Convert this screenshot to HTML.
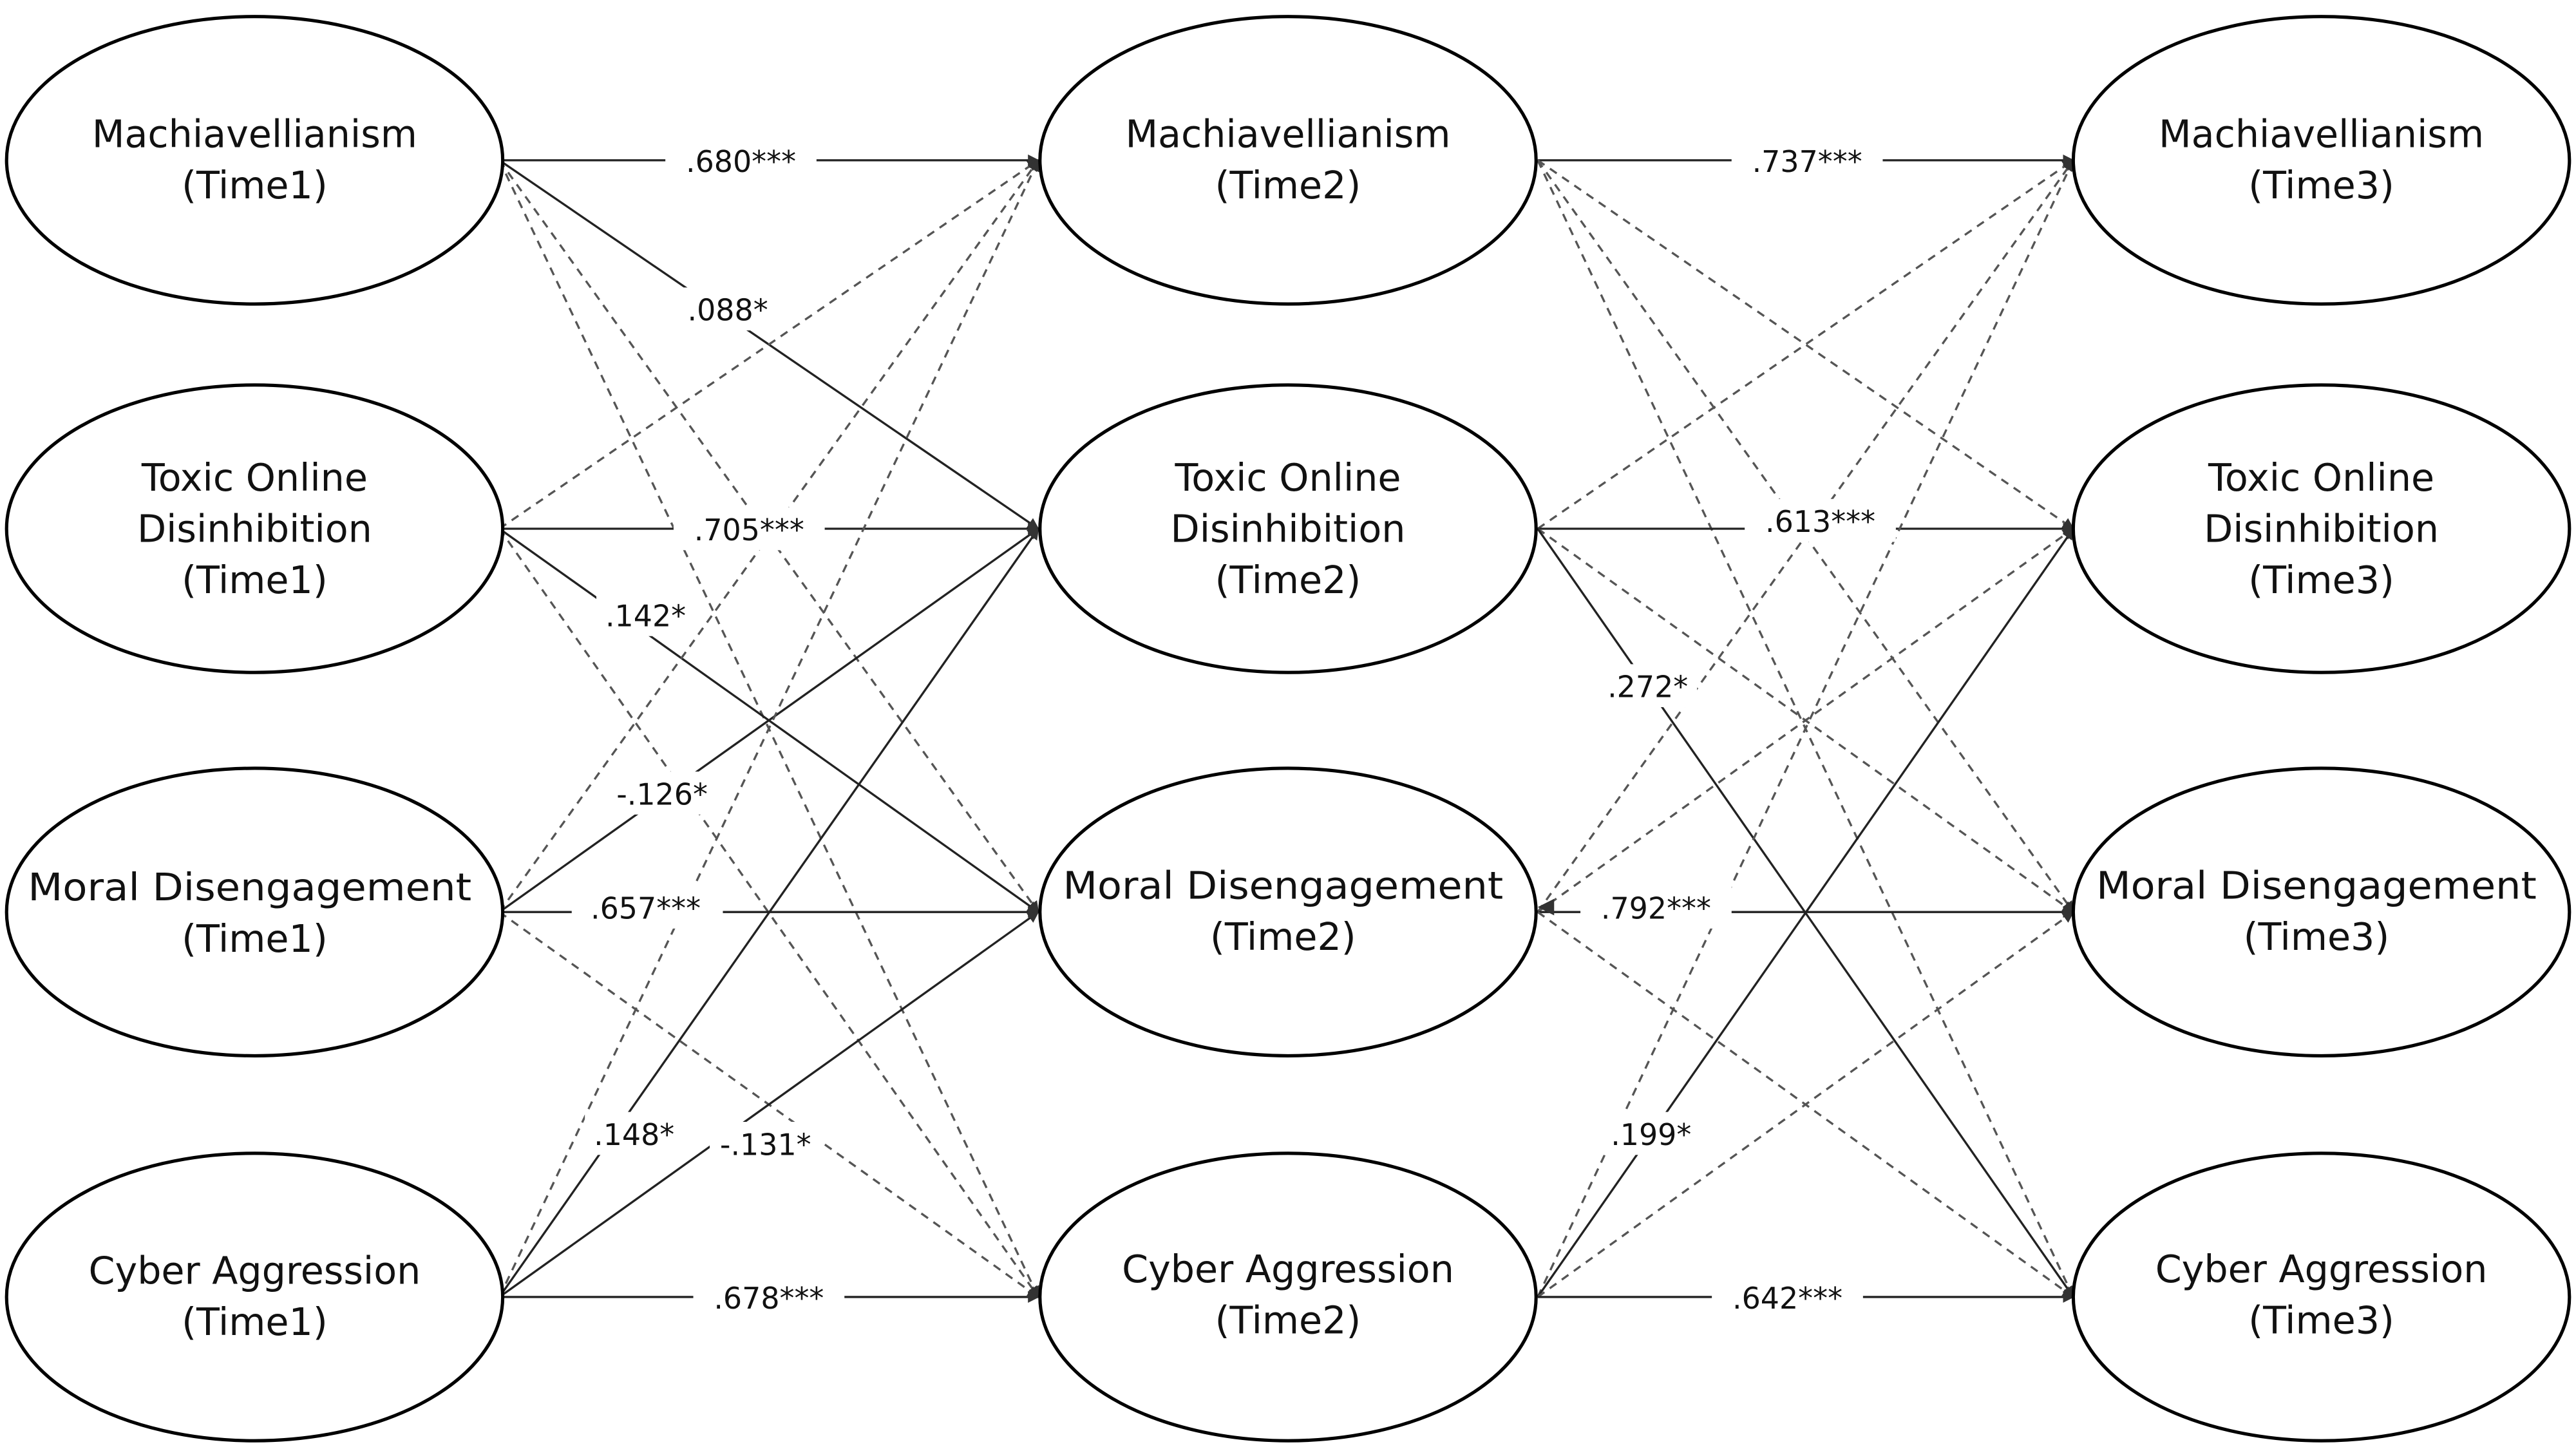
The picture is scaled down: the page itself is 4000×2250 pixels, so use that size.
<!DOCTYPE html>
<html><head><meta charset="utf-8"><style>
html,body{margin:0;padding:0;background:#fff;}
svg{display:block;}
text{font-family:"DejaVu Sans","Liberation Sans",sans-serif;fill:#111;}
</style></head><body>
<svg width="4000" height="2250" viewBox="0 0 1568 877" preserveAspectRatio="none" xmlns="http://www.w3.org/2000/svg">
<defs>
<marker id="a" viewBox="0 0 10 10" refX="9" refY="5" markerWidth="7" markerHeight="7" orient="auto" markerUnits="userSpaceOnUse"><path d="M0,0L10,5L0,10z" fill="#333"/></marker>
</defs>
<g stroke="#222" stroke-width="1.3" fill="none" marker-end="url(#a)">
<line x1="304" y1="97" x2="632" y2="97"/>
<line x1="304" y1="97" x2="632" y2="320"/>
<line x1="304" y1="97" x2="632" y2="552" stroke-dasharray="5,4" stroke="#555"/>
<line x1="304" y1="97" x2="632" y2="785" stroke-dasharray="5,4" stroke="#555"/>
<line x1="304" y1="320" x2="632" y2="97" stroke-dasharray="5,4" stroke="#555"/>
<line x1="304" y1="320" x2="632" y2="320"/>
<line x1="304" y1="320" x2="632" y2="552"/>
<line x1="304" y1="320" x2="632" y2="785" stroke-dasharray="5,4" stroke="#555"/>
<line x1="304" y1="552" x2="632" y2="97" stroke-dasharray="5,4" stroke="#555"/>
<line x1="304" y1="552" x2="632" y2="320"/>
<line x1="304" y1="552" x2="632" y2="552"/>
<line x1="304" y1="552" x2="632" y2="785" stroke-dasharray="5,4" stroke="#555"/>
<line x1="304" y1="785" x2="632" y2="97" stroke-dasharray="5,4" stroke="#555"/>
<line x1="304" y1="785" x2="632" y2="320"/>
<line x1="304" y1="785" x2="632" y2="552"/>
<line x1="304" y1="785" x2="632" y2="785"/>
<line x1="936" y1="97" x2="1262" y2="97"/>
<line x1="936" y1="97" x2="1262" y2="320" stroke-dasharray="5,4" stroke="#555"/>
<line x1="936" y1="97" x2="1262" y2="552" stroke-dasharray="5,4" stroke="#555"/>
<line x1="936" y1="97" x2="1262" y2="785" stroke-dasharray="5,4" stroke="#555"/>
<line x1="936" y1="320" x2="1262" y2="97" stroke-dasharray="5,4" stroke="#555"/>
<line x1="936" y1="320" x2="1262" y2="320"/>
<line x1="936" y1="320" x2="1262" y2="552" stroke-dasharray="5,4" stroke="#555"/>
<line x1="936" y1="320" x2="1262" y2="785"/>
<line x1="936" y1="552" x2="1262" y2="97" stroke-dasharray="5,4" stroke="#555"/>
<line x1="936" y1="552" x2="1262" y2="320" stroke-dasharray="5,4" stroke="#555"/>
<line x1="936" y1="552" x2="1262" y2="552"/>
<line x1="936" y1="552" x2="1262" y2="785" stroke-dasharray="5,4" stroke="#555"/>
<line x1="936" y1="785" x2="1262" y2="97" stroke-dasharray="5,4" stroke="#555"/>
<line x1="936" y1="785" x2="1262" y2="320"/>
<line x1="936" y1="785" x2="1262" y2="552" stroke-dasharray="5,4" stroke="#555"/>
<line x1="936" y1="785" x2="1262" y2="785"/>
</g>
<path d="M936,549 L946,544 L946,554z" fill="#333"/>
<g font-size="18" text-anchor="middle">
<rect x="405" y="84" width="92" height="26" fill="#fff"/><text x="451" y="104">.680***</text>
<rect x="410" y="174" width="62" height="26" fill="#fff"/><text x="443" y="194">.088*</text>
<rect x="410" y="307" width="92" height="26" fill="#fff"/><text x="456" y="327">.705***</text>
<rect x="363" y="359" width="60" height="26" fill="#fff"/><text x="393" y="379">.142*</text>
<rect x="370" y="467" width="66" height="26" fill="#fff"/><text x="403" y="487">-.126*</text>
<rect x="348" y="536" width="92" height="26" fill="#fff"/><text x="393" y="556">.657***</text>
<rect x="356" y="673" width="60" height="26" fill="#fff"/><text x="386" y="693">.148*</text>
<rect x="432" y="679" width="68" height="26" fill="#fff"/><text x="466" y="699">-.131*</text>
<rect x="422" y="772" width="92" height="26" fill="#fff"/><text x="468" y="792">.678***</text>
<rect x="1054" y="84" width="92" height="26" fill="#fff"/><text x="1100" y="104">.737***</text>
<rect x="1062" y="302" width="92" height="26" fill="#fff"/><text x="1108" y="322">.613***</text>
<rect x="973" y="402" width="60" height="26" fill="#fff"/><text x="1003" y="422">.272*</text>
<rect x="962" y="536" width="92" height="26" fill="#fff"/><text x="1008" y="556">.792***</text>
<rect x="975" y="673" width="60" height="26" fill="#fff"/><text x="1005" y="693">.199*</text>
<rect x="1042" y="772" width="92" height="26" fill="#fff"/><text x="1088" y="792">.642***</text>
</g>
<g fill="#fff" stroke="#000" stroke-width="2">
<ellipse cx="155" cy="97" rx="151" ry="87"/><ellipse cx="155" cy="320" rx="151" ry="87"/>
<ellipse cx="155" cy="552" rx="151" ry="87"/><ellipse cx="155" cy="785" rx="151" ry="87"/>
<ellipse cx="784" cy="97" rx="151" ry="87"/><ellipse cx="784" cy="320" rx="151" ry="87"/>
<ellipse cx="784" cy="552" rx="151" ry="87"/><ellipse cx="784" cy="785" rx="151" ry="87"/>
<ellipse cx="1413" cy="97" rx="151" ry="87"/><ellipse cx="1413" cy="320" rx="151" ry="87"/>
<ellipse cx="1413" cy="552" rx="151" ry="87"/><ellipse cx="1413" cy="785" rx="151" ry="87"/>
</g>
<g font-size="23" text-anchor="middle">
<text x="155" y="89">Machiavellianism</text><text x="155" y="120">(Time1)</text>
<text x="155" y="297">Toxic Online</text><text x="155" y="328">Disinhibition</text><text x="155" y="359">(Time1)</text>
<text x="152" y="545" textLength="270" lengthAdjust="spacingAndGlyphs">Moral Disengagement</text><text x="155" y="576">(Time1)</text>
<text x="155" y="777">Cyber Aggression</text><text x="155" y="808">(Time1)</text>
<text x="784" y="89">Machiavellianism</text><text x="784" y="120">(Time2)</text>
<text x="784" y="297">Toxic Online</text><text x="784" y="328">Disinhibition</text><text x="784" y="359">(Time2)</text>
<text x="781" y="544" textLength="268" lengthAdjust="spacingAndGlyphs">Moral Disengagement</text><text x="781" y="575">(Time2)</text>
<text x="784" y="776">Cyber Aggression</text><text x="784" y="807">(Time2)</text>
<text x="1413" y="89">Machiavellianism</text><text x="1413" y="120">(Time3)</text>
<text x="1413" y="297">Toxic Online</text><text x="1413" y="328">Disinhibition</text><text x="1413" y="359">(Time3)</text>
<text x="1410" y="544" textLength="268" lengthAdjust="spacingAndGlyphs">Moral Disengagement</text><text x="1410" y="575">(Time3)</text>
<text x="1413" y="776">Cyber Aggression</text><text x="1413" y="807">(Time3)</text>
</g>
</svg>
</body></html>
